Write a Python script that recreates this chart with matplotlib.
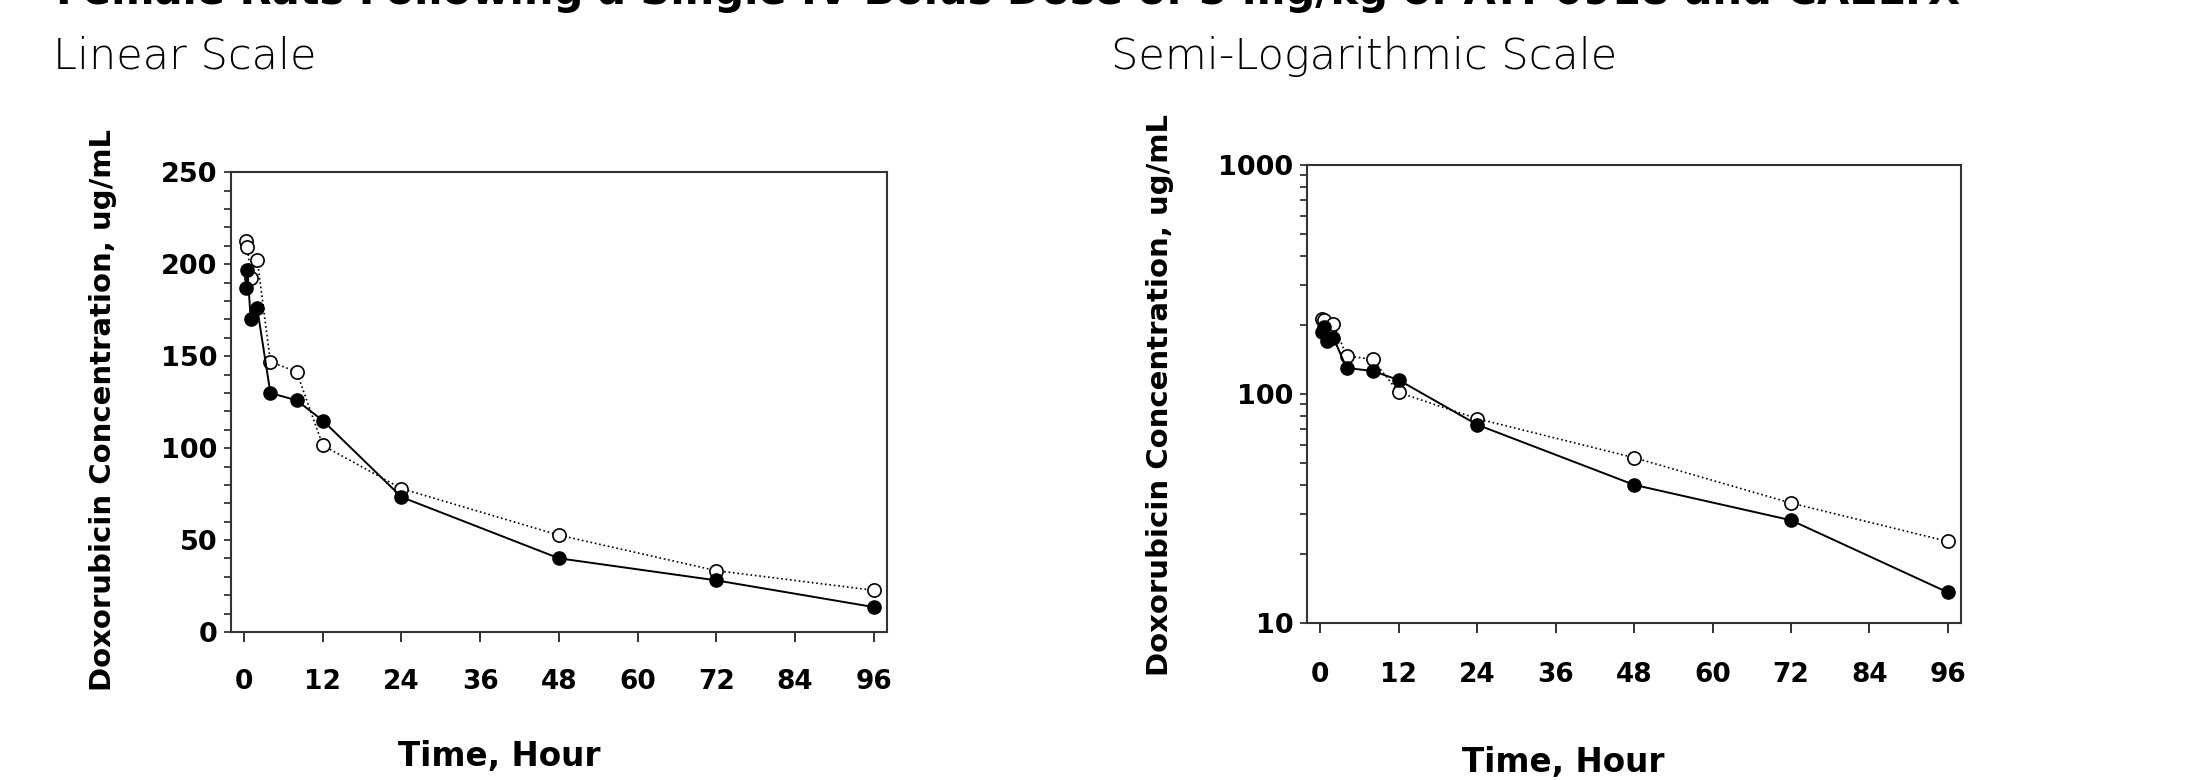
import matplotlib
matplotlib.use("Agg")
import matplotlib.pyplot as plt
from matplotlib.ticker import MultipleLocator, FixedLocator, NullFormatter, FixedFormatter

plt.rcParams['font.family'] = ['DejaVu Sans']

# sampling times (hours) and mean concentrations (ug/mL)
time_h = [0.25, 0.5, 1, 2, 4, 8, 12, 24, 48, 72, 96]
conc_filled = [187, 197, 170, 176, 130, 126, 115, 73.4, 40.1, 28.1, 13.6]
conc_open = [212.5, 209.5, 192.5, 202.5, 147, 141.5, 101.5, 78, 52.7, 33.4, 22.7]

x_ticks = [0, 12, 24, 36, 48, 60, 72, 84, 96]
lin_yticks = [0, 50, 100, 150, 200, 250]
log_yticks = [10, 100, 1000]

title = "Female Rats Following a Single IV Bolus Dose of 5 mg/kg of ATI-0918 and CAELYX"
ylab = "Doxorubicin Concentration, ug/mL"
xlab = "Time, Hour"

fig = plt.figure(figsize=(21.92, 7.8), dpi=100)
ax1 = fig.add_axes([0.1054, 0.1897, 0.2991, 0.5894])
ax2 = fig.add_axes([0.5964, 0.2013, 0.2982, 0.5872])


def draw(ax, xpad):
    ax.plot(time_h, conc_open, linestyle=':', color='black', linewidth=1.2,
            marker='o', markersize=9.5, markerfacecolor='white',
            markeredgecolor='black', markeredgewidth=1.2, zorder=3)
    ax.plot(time_h, conc_filled, linestyle='-', color='black', linewidth=1.4,
            marker='o', markersize=9.5, markerfacecolor='black',
            markeredgecolor='black', zorder=4)
    ax.set_xlim(-2, 98)
    ax.set_xticks(x_ticks)
    for s in ax.spines.values():
        s.set_color('#333333')
        s.set_linewidth(1.5)
    ax.tick_params(axis='x', direction='out', length=7, width=1.3,
                   pad=xpad, labelsize=19, colors='#222222')
    ax.tick_params(axis='y', which='both', direction='out', length=5,
                   width=1.2, pad=5, labelsize=19.5, colors='#222222')


draw(ax1, 19.5)
ax1.set_ylim(0, 250)
ax1.set_yticks(lin_yticks)
ax1.yaxis.set_minor_locator(MultipleLocator(10))

draw(ax2, 21)
ax2.set_yscale('log')
ax2.set_ylim(10, 1000)
ax2.yaxis.set_major_locator(FixedLocator(log_yticks))
ax2.yaxis.set_major_formatter(FixedFormatter([str(v) for v in log_yticks]))
ax2.yaxis.set_minor_formatter(NullFormatter())

for ax in (ax1, ax2):
    for lbl in ax.get_xticklabels() + ax.get_yticklabels():
        lbl.set_fontweight('bold')
        lbl.set_color('black')

for ax, ylx, yly, xlx, xly in [(ax1, -0.174, 0.483, 0.409, -0.235),
                               (ax2, -0.204, 0.498, 0.392, -0.269)]:
    ax.set_ylabel(ylab, fontsize=21, fontweight='bold')
    ax.yaxis.set_label_coords(ylx, yly)
    ax.set_xlabel(xlab, fontsize=23.5, fontweight='bold')
    ax.xaxis.set_label_coords(xlx, xly)

fig.text(0.0242, 0.928, "Linear Scale", fontsize=31, fontweight='light',
         va='center', ha='left')
fig.text(0.5068, 0.928, "Semi-Logarithmic Scale", fontsize=31, fontweight='light',
         va='center', ha='left')
# the page title runs off the top edge in the source image
fig.text(0.0255, 1 - 4 / 780, title, fontsize=30, fontweight='bold',
         va='baseline', ha='left')

fig.savefig("out.png", dpi=100)
